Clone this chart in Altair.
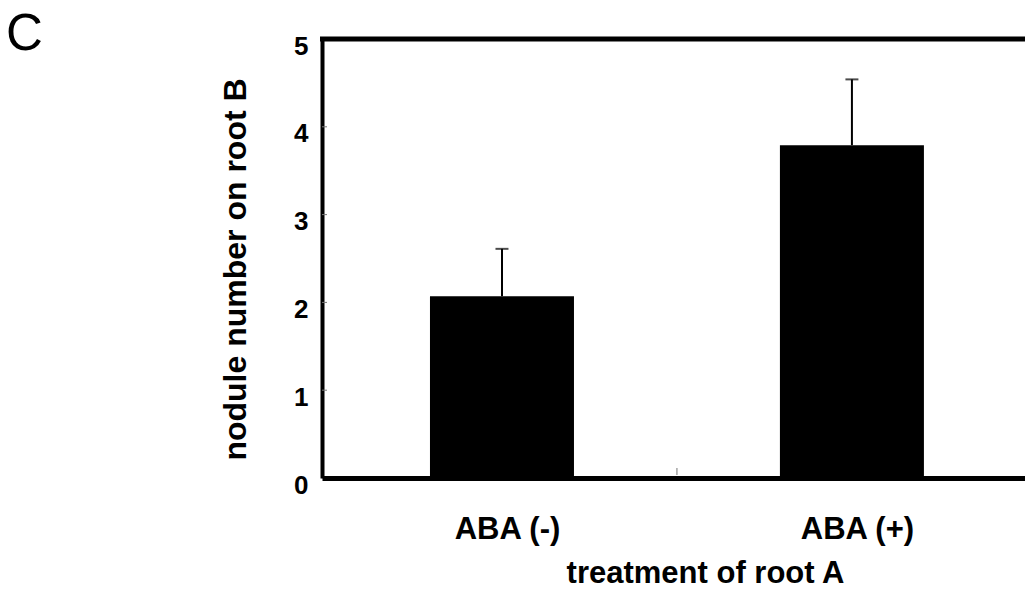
import altair as alt
import pandas as pd

# data
categories = ["ABA (-)", "ABA (+)"]
positions = [0.5, 1.5]
means = [2.07, 3.79]
upper = [2.61, 4.54]
y_ticks = [1, 2, 3, 4]

FONT = "Liberation Sans"
W, H = 703, 439

df = pd.DataFrame({"cat": categories, "pos": positions, "mean": means, "upper": upper})
tick_df = pd.DataFrame({"v": y_ticks})

xscale = alt.Scale(domain=[0, W / 355.0], nice=False, zero=False)
yscale = alt.Scale(domain=[0, 5], nice=False)

label_expr = "datum.value < 1 ? 'ABA (-)' : 'ABA (+)'"

base = alt.Chart(df)

bars = base.mark_bar(size=144, color="black").encode(
    x=alt.X("pos:Q", scale=xscale,
            axis=alt.Axis(values=positions, labelExpr=label_expr, title="treatment of root A",
                          ticks=False, tickSize=0, grid=False, domainColor="black", domainWidth=5,
                          labelFont=FONT, labelFontSize=31, labelFontWeight="bold", labelColor="black",
                          labelBaseline="alphabetic", labelPadding=60, labelOffset=5,
                          titleFont=FONT, titleFontSize=31, titleFontWeight="bold", titleColor="black",
                          titleBaseline="alphabetic", titleX=383, titleY=104)),
    y=alt.Y("mean:Q", scale=yscale,
            axis=alt.Axis(values=[0, 1, 2, 3, 4, 5], format="d", title="nodule number on root B",
                          ticks=False, tickSize=0, grid=False, domainColor="black", domainWidth=4,
                          labelFont=FONT, labelFontSize=26, labelFontWeight="bold", labelColor="black",
                          labelPadding=14, labelOffset=7,
                          titleFont=FONT, titleFontSize=32, titleFontWeight="bold", titleColor="black",
                          titleAngle=-90, titleBaseline="alphabetic", titleX=-77, titleY=230)),
)

err = base.mark_rule(color="black", strokeWidth=2).encode(
    x=alt.X("pos:Q", scale=xscale), y=alt.Y("mean:Q", scale=yscale), y2="upper:Q"
)
caps = base.mark_tick(color="black", thickness=2, size=13, orient="horizontal").encode(
    x=alt.X("pos:Q", scale=xscale), y=alt.Y("upper:Q", scale=yscale)
)

ytk = alt.Chart(tick_df).mark_rule(color="#777777", strokeWidth=1).encode(
    x=alt.value(0), x2=alt.value(5), y=alt.Y("v:Q", scale=yscale)
)

sep = alt.Chart(pd.DataFrame({"s": [1.0]})).mark_rule(color="#777777", strokeWidth=1).encode(
    x=alt.X("s:Q", scale=xscale), y=alt.value(H - 10), y2=alt.value(H - 3)
)

top = alt.Chart(pd.DataFrame({"a": [0]})).mark_rule(color="black", strokeWidth=5).encode(
    x=alt.value(-2), x2=alt.value(W + 5), y=alt.value(0)
)

letter = alt.Chart(pd.DataFrame({"t": ["C"]})).mark_text(
    font=FONT, fontSize=51, color="black", align="left", baseline="alphabetic"
).encode(x=alt.value(-316), y=alt.value(11), text="t:N")

chart = alt.layer(bars, err, caps, ytk, sep, top, letter).properties(
    width=W, height=H,
    autosize=alt.AutoSizeParams(type="none"),
    padding={"left": 322, "top": 39, "right": 0, "bottom": 112},
).configure_view(stroke=None).configure(background="white")

chart.save("out.html", embed_options={"renderer": "svg", "actions": False})
